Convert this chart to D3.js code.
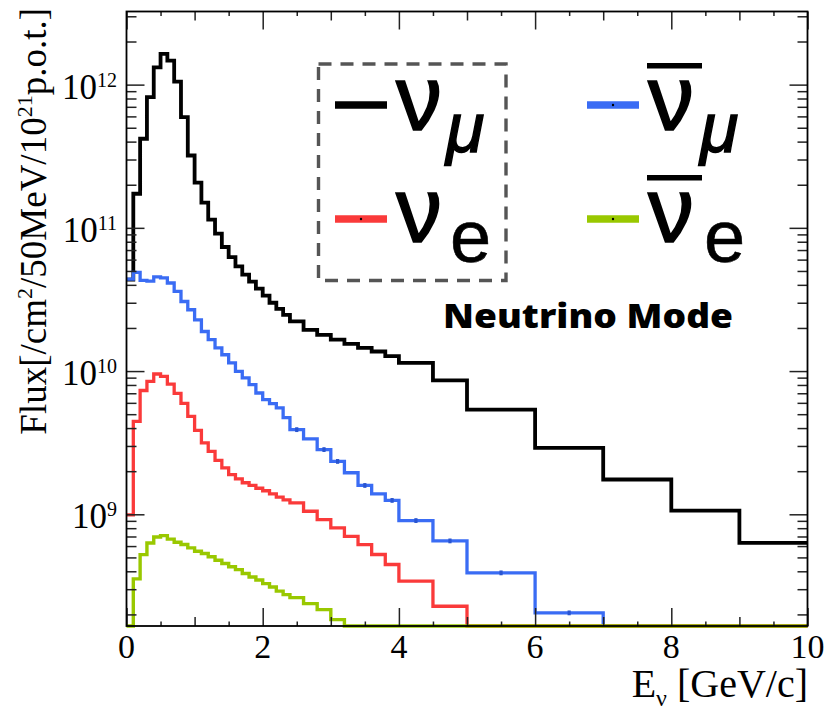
<!DOCTYPE html>
<html>
<head>
<meta charset="utf-8">
<script src="https://cdn.jsdelivr.net/npm/d3@7"></script>
<style>
  body { margin: 0; background: #fff; }
  svg { display: block; }
</style>
</head>
<body>
<svg id="chart" width="825" height="710"></svg>
<script>
// Energy bin edges [GeV]
const binEdges = [0, 0.1, 0.2, 0.3, 0.4, 0.5, 0.6, 0.7, 0.8, 0.9, 1.0, 1.1, 1.2, 1.3, 1.4,
  1.5, 1.6, 1.7, 1.8, 1.9, 2.0, 2.1, 2.2, 2.3, 2.4, 2.6, 2.8, 3.0, 3.2, 3.4, 3.6, 3.8, 4.0,
  4.5, 5, 6, 7, 8, 9, 10];

// Flux per bin [/cm^2/50MeV/10^21 p.o.t.]
const numuFlux = [4.35e10, 1.73e11, 4.19e11, 8.18e11, 1.32e12, 1.64e12, 1.47e12, 1.05e12,
  5.93e11, 3.20e11, 2.07e11, 1.50e11, 1.14e11, 9.10e10, 7.35e10, 6.25e10, 5.38e10, 4.71e10,
  4.21e10, 3.76e10, 3.36e10, 3.00e10, 2.72e10, 2.47e10,
  2.22e10, 1.94e10, 1.79e10, 1.66e10, 1.55e10, 1.45e10, 1.37e10, 1.27e10,
  1.14e10, 8.61e9, 5.38e9, 2.91e9, 1.75e9, 1.06e9, 6.31e8];

const numubarFlux = [4.39e10, 4.89e10, 4.30e10, 4.25e10, 4.54e10, 4.47e10, 4.12e10, 3.60e10,
  3.06e10, 2.68e10, 2.28e10, 1.89e10, 1.66e10, 1.45e10, 1.30e10, 1.14e10, 9.96e9, 8.95e9,
  8.04e9, 7.03e9, 6.31e9, 5.92e9, 5.53e9, 4.73e9,
  3.90e9, 3.36e9, 2.83e9, 2.34e9, 1.95e9, 1.59e9, 1.39e9, 1.25e9,
  9.04e8, 6.52e8, 3.90e8, 2.05e8, 0, 0, 0];

const nueFlux = [9.9e8, 4.46e9, 7.32e9, 8.48e9, 9.54e9, 9.19e9, 8.10e9, 6.99e9,
  5.95e9, 4.83e9, 3.85e9, 3.15e9, 2.75e9, 2.38e9, 2.11e9, 1.89e9, 1.77e9, 1.66e9,
  1.59e9, 1.52e9, 1.46e9, 1.39e9, 1.32e9, 1.26e9,
  1.20e9, 1.05e9, 9.18e8, 8.03e8, 7.02e8, 6.15e8, 5.24e8, 4.46e8,
  3.41e8, 2.28e8, 0, 0, 0, 0, 0];

const nuebarFlux = [0, 3.54e8, 5.23e8, 6.31e8, 6.95e8, 7.10e8, 6.71e8, 6.38e8,
  6.15e8, 5.83e8, 5.52e8, 5.32e8, 5.05e8, 4.78e8, 4.53e8, 4.30e8, 4.11e8, 3.86e8,
  3.65e8, 3.48e8, 3.28e8, 3.11e8, 2.91e8, 2.75e8,
  2.62e8, 2.38e8, 2.16e8, 1.84e8, 0, 0, 0, 0,
  0, 0, 0, 0, 0, 0, 0];

// Axis ticks
const xMajorTicks = [0, 2, 4, 6, 8, 10];
const xMidTicks = [1, 3, 5, 7, 9];
const xMinorTicks = [0.5, 1.5, 2.5, 3.5, 4.5, 5.5, 6.5, 7.5, 8.5, 9.5];
const yDecades = [9, 10, 11, 12];
const yRange = [1.66e8, 3.24e12];

// Legend entries (column-major: νμ, νe | anti-νμ, anti-νe)
const legendKeys = ["numu", "nue", "numubar", "nuebar"];
const legendSub = ["μ", "e", "μ", "e"];
const legendBar = [false, false, true, true];
const modeLabel = "Neutrino Mode";

// ---------------------------------------------------------------
const svg = d3.select("#chart");
const plot = { left: 126.5, right: 807.5, top: 11.5, bottom: 626 };

const x = d3.scaleLinear().domain([0, 10]).range([plot.left, plot.right]);
const y = d3.scaleLog().domain(yRange).range([plot.bottom, plot.top]).clamp(true);

// drawing order: black, blue, red, green (green on top)
const series = [
  { key: "numu",    values: numuFlux,    color: "#000000", width: 3.8, markers: false },
  { key: "numubar", values: numubarFlux, color: "#3a6cf4", width: 3.3, markers: true },
  { key: "nue",     values: nueFlux,     color: "#fa3a3a", width: 3.3, markers: false },
  { key: "nuebar",  values: nuebarFlux,  color: "#99c800", width: 3.4, markers: false }
];
const byKey = Object.fromEntries(series.map(s => [s.key, s]));

svg.append("rect").attr("width", 825).attr("height", 710).attr("fill", "#fff");

// histogram steps
const stepLine = d3.line().x(d => x(d[0])).y(d => y(d[1]));
function stepPoints(vals) {
  const pts = [];
  vals.forEach((v, i) => { pts.push([binEdges[i], v]); pts.push([binEdges[i + 1], v]); });
  return pts;
}

const histG = svg.append("g");
series.forEach(s => {
  histG.append("path")
    .attr("d", stepLine(stepPoints(s.values)))
    .attr("fill", "none")
    .attr("stroke", s.color)
    .attr("stroke-width", s.width)
    .attr("stroke-linejoin", "miter")
    .attr("stroke-linecap", "butt");
  if (s.markers) {
    s.values.forEach((v, i) => {
      const w = binEdges[i + 1] - binEdges[i];
      if (v > 0 && w >= 0.2) {
        const cx = x((binEdges[i] + binEdges[i + 1]) / 2);
        histG.append("rect")
          .attr("x", cx - 1.6).attr("y", y(v) - 2.4)
          .attr("width", 3.2).attr("height", 4.8)
          .attr("fill", "#2a55d0");
      }
    });
  }
});

// axes (ticks pointing inward, on all four sides)
function styleAxis(g) {
  g.select(".domain").remove();
  g.selectAll(".tick line").attr("stroke", "#222").attr("stroke-width", 1.5);
  g.selectAll(".tick text").remove();
}
const tickSets = [
  { vals: xMajorTicks, len: 18 },
  { vals: xMidTicks, len: 9 },
  { vals: xMinorTicks, len: 4.5 }
];
tickSets.forEach(t => {
  svg.append("g").attr("transform", `translate(0,${plot.bottom})`)
    .call(d3.axisBottom(x).tickValues(t.vals).tickSize(-t.len)).call(styleAxis);
  svg.append("g").attr("transform", `translate(0,${plot.top})`)
    .call(d3.axisTop(x).tickValues(t.vals).tickSize(-t.len)).call(styleAxis);
});

const yMajor = yDecades.map(k => Math.pow(10, k));
const yMinor = [];
for (let k = 8; k <= 12; k++) for (let m = 2; m <= 9; m++) {
  const v = m * Math.pow(10, k);
  if (v >= yRange[0] && v <= yRange[1]) yMinor.push(v);
}
[[yMajor, 18], [yMinor, 10]].forEach(([vals, len]) => {
  svg.append("g").attr("transform", `translate(${plot.left},0)`)
    .call(d3.axisLeft(y).tickValues(vals).tickSize(-len)).call(styleAxis);
  svg.append("g").attr("transform", `translate(${plot.right},0)`)
    .call(d3.axisRight(y).tickValues(vals).tickSize(-len)).call(styleAxis);
});

// frame
svg.append("rect")
  .attr("x", plot.left).attr("y", plot.top)
  .attr("width", plot.right - plot.left).attr("height", plot.bottom - plot.top)
  .attr("fill", "none").attr("stroke", "#000").attr("stroke-width", 1.8);

const serif = "'Liberation Serif', 'Times New Roman', serif";
const sans = "'Liberation Sans', Arial, sans-serif";

// x tick labels
svg.append("g").selectAll("text").data(xMajorTicks).join("text")
  .attr("x", d => x(d)).attr("y", 658)
  .attr("text-anchor", "middle")
  .attr("font-family", serif).attr("font-size", 34)
  .text(d => d);

// y tick labels 10^k
const yLab = svg.append("g").selectAll("text").data(yDecades).join("text")
  .attr("x", 117).attr("y", d => y(Math.pow(10, d)) + 14)
  .attr("text-anchor", "end")
  .attr("font-family", serif).attr("font-size", 35);
yLab.append("tspan").text("10");
yLab.append("tspan").attr("dy", -12).attr("font-size", 20).text(d => d);

// axis titles
const xt = svg.append("text")
  .attr("x", 808).attr("y", 697)
  .attr("text-anchor", "end")
  .attr("font-family", serif).attr("font-size", 40);
xt.append("tspan").text("E");
xt.append("tspan").attr("dy", 9).attr("font-size", 24).text("ν");
xt.append("tspan").attr("dy", -9).text(" [GeV/c]");

const yt = svg.append("text")
  .attr("transform", "translate(46,8) rotate(-90)")
  .attr("text-anchor", "end")
  .attr("font-family", serif).attr("font-size", 37);
yt.append("tspan").text("Flux[/cm");
yt.append("tspan").attr("dy", -14).attr("font-size", 22).text("2");
yt.append("tspan").attr("dy", 14).text("/50MeV/10");
yt.append("tspan").attr("dy", -14).attr("font-size", 22).text("21");
yt.append("tspan").attr("dy", 14).text("p.o.t.]");

// legend
const leg = svg.append("g");
leg.append("rect")
  .attr("x", 318.5).attr("y", 64).attr("width", 187.5).attr("height", 216.5)
  .attr("fill", "none").attr("stroke", "#555").attr("stroke-width", 3.4)
  .attr("stroke-dasharray", "13 9");

const colX = [335, 587];
const rowY = [105, 219];
legendKeys.forEach((key, i) => {
  const s = byKey[key];
  const col = Math.floor(i / 2);
  const row = i % 2;
  const lx = colX[col], ly = rowY[row];
  leg.append("line")
    .attr("x1", lx).attr("x2", lx + 52).attr("y1", ly).attr("y2", ly)
    .attr("stroke", s.color).attr("stroke-width", 7.5);
  if (key !== "numu") {
    leg.append("circle").attr("cx", lx + 26).attr("cy", ly).attr("r", 1.2).attr("fill", "#000");
  }
  const nuBase = ly + (row === 0 ? 25 : 23);
  leg.append("text")
    .attr("x", lx + 61).attr("y", nuBase)
    .attr("font-family", sans).attr("font-size", 92)
    .attr("stroke", "#000").attr("stroke-width", 1.6)
    .text("ν");
  if (legendBar[i]) {
    leg.append("rect")
      .attr("x", lx + 60).attr("y", nuBase - 67)
      .attr("width", 55).attr("height", 5.5).attr("fill", "#000");
  }
  const sub = legendSub[i];
  leg.append("text")
    .attr("x", lx + (sub === "μ" ? 111 : 115) + (col === 1 ? 2 : 0))
    .attr("y", sub === "μ" ? ly + 47 : ly + 43)
    .attr("font-family", sans)
    .attr("font-style", sub === "μ" ? "italic" : "normal")
    .attr("font-size", sub === "μ" ? 70 : 74)
    .attr("stroke", "#000").attr("stroke-width", sub === "μ" ? 1.4 : 0.6)
    .text(sub);
});

svg.append("text")
  .attr("x", 443).attr("y", 328)
  .attr("font-family", "'Open Sans', 'Noto Sans', sans-serif")
  .attr("font-weight", 800).attr("font-size", 34)
  .attr("textLength", 290).attr("lengthAdjust", "spacingAndGlyphs")
  .text(modeLabel);
</script>
</body>
</html>
